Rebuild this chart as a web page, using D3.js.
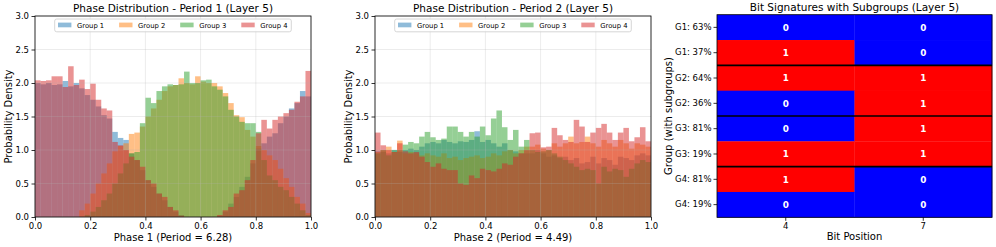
<!DOCTYPE html>
<html>
<head>
<meta charset="utf-8">
<script src="https://cdn.jsdelivr.net/npm/d3@7"></script>
<style>
  body { margin: 0; background: #fff; }
  text { font-family: "DejaVu Sans", sans-serif; }
</style>
</head>
<body>
<script>
// Histogram densities, 50 bins on [0, 1]
var groupNames = ['Group 1', 'Group 2', 'Group 3', 'Group 4'];
var groupColors = ['#1f77b4', '#ff7f0e', '#2ca02c', '#d62728'];
var nBins = 50;

var p1Group1 = [2.0, 1.98, 2.0, 1.97, 1.98, 2.03, 1.95, 2.0, 1.92, 1.82,
  1.75, 1.65, 1.52, 1.47, 1.27, 1.18, 1.15, 0.95, 0.85, 0.7,
  0.55, 0.45, 0.35, 0.25, 0.15, 0.08, 0.03, 0, 0, 0,
  0, 0, 0, 0.02, 0.08, 0.2, 0.3, 0.45, 0.6, 0.8,
  1.02, 1.1, 1.2, 1.25, 1.4, 1.5, 1.62, 1.7, 1.88, 1.8];
var p1Group2 = [0, 0, 0, 0, 0, 0, 0, 0, 0.1, 0.2,
  0.35, 0.5, 0.65, 0.8, 0.98, 1.06, 1.1, 1.24, 1.26, 1.35,
  1.5, 1.62, 1.75, 1.88, 1.95, 1.97, 2.07, 2.0, 1.98, 2.1,
  2.02, 2.0, 2.0, 1.95, 1.85, 1.7, 1.52, 1.49, 1.3, 1.2,
  1.06, 1.0, 0.92, 0.85, 0.72, 0.58, 0.45, 0.3, 0.2, 0.06];
var p1Group3 = [0, 0, 0, 0, 0, 0, 0, 0, 0, 0.03,
  0.08, 0.15, 0.25, 0.35, 0.5, 0.65, 0.8, 0.95, 0.97, 1.4,
  1.78, 1.7, 1.88, 1.95, 1.98, 1.97, 1.98, 2.17, 2.0, 2.0,
  2.04, 2.05, 1.95, 1.9, 1.8, 1.6, 1.5, 1.42, 1.4, 1.4,
  1.27, 0.85, 0.62, 0.55, 0.45, 0.4, 0.3, 0.2, 0.1, 0.03];
var p1Group4 = [2.04, 2.03, 2.04, 2.1, 2.1, 1.94, 2.25, 1.97, 2.05, 1.91,
  1.99, 1.75, 1.62, 1.59, 1.12, 1.07, 1.0, 0.9, 0.85, 0.75,
  0.55, 0.5, 0.35, 0.3, 0.15, 0.1, 0.02, 0, 0, 0,
  0, 0, 0, 0.03, 0.1, 0.15, 0.35, 0.4, 0.55, 0.85,
  1.25, 1.45, 1.32, 1.45, 1.5, 1.55, 1.6, 1.72, 1.8, 2.18];

var p2Group1 = [0.98, 0.97, 0.95, 1.0, 0.97, 1.0, 1.02, 1.0, 1.05, 1.1,
  1.12, 1.1, 1.15, 1.12, 1.1, 1.13, 1.12, 1.15, 1.28, 1.12,
  1.15, 1.1, 1.05, 1.1, 1.0, 0.98, 0.95, 0.95, 0.95, 1.0,
  0.95, 0.9, 0.92, 0.88, 0.9, 0.85, 0.88, 0.8, 0.82, 0.9,
  0.8, 0.88, 0.85, 0.78, 0.9, 0.88, 0.85, 0.92, 0.95, 0.92];
var p2Group2 = [0.97, 1.0, 1.05, 0.97, 1.14, 0.95, 0.97, 0.95, 0.92, 0.95,
  0.92, 0.9, 0.95, 0.88, 0.9, 0.85, 0.88, 0.9, 0.92, 0.88,
  0.9, 0.95, 0.92, 0.98, 1.0, 0.95, 1.0, 1.05, 1.05, 1.08,
  1.02, 1.0, 1.1, 1.05, 1.1, 1.2, 1.1, 1.12, 1.2, 1.1,
  1.05, 1.15, 1.1, 1.05, 1.15, 1.1, 1.02, 1.1, 1.08, 1.05];
var p2Group3 = [0.95, 1.0, 0.92, 1.0, 1.0, 1.08, 1.12, 1.1, 1.2, 1.27,
  1.19, 1.15, 1.17, 1.35, 1.35, 1.27, 1.2, 1.27, 1.2, 1.35,
  1.22, 1.47, 1.59, 1.34, 1.15, 1.3, 1.05, 1.15, 1.0, 0.97,
  0.98, 1.0, 0.95, 0.9, 0.85, 0.8, 0.75, 0.7, 0.72, 0.7,
  0.5, 0.75, 0.68, 0.72, 0.7, 0.6, 0.72, 0.8, 0.85, 0.82];
var p2Group4 = [1.26, 1.07, 1.0, 0.97, 1.1, 0.98, 0.95, 0.97, 0.9, 0.82,
  0.75, 0.8, 0.72, 0.7, 0.7, 0.5, 0.48, 0.62, 0.58, 0.72,
  0.7, 0.68, 0.72, 0.8, 0.78, 0.9, 0.95, 1.0, 1.25, 1.26,
  1.04, 1.05, 1.33, 1.22, 1.15, 1.12, 1.45, 1.35, 1.12, 1.26,
  1.33, 1.39, 1.26, 1.15, 1.26, 1.33, 1.13, 1.19, 1.34, 1.13];

var xTicks = [0, 0.2, 0.4, 0.6, 0.8, 1.0];
var yTicks = [0, 0.5, 1.0, 1.5, 2.0, 2.5, 3.0];

// Bit signatures heatmap
var sigLabels = ['G1: 63%', 'G1: 37%', 'G2: 64%', 'G2: 36%', 'G3: 81%', 'G3: 19%', 'G4: 81%', 'G4: 19%'];
var sigGroups = ['G1', 'G1', 'G2', 'G2', 'G3', 'G3', 'G4', 'G4'];
var bitPositions = ['4', '7'];
var sigBits = [[0, 0], [1, 0], [1, 1], [0, 1], [0, 1], [1, 1], [1, 0], [0, 0]];

var svg = d3.select('body').append('svg')
  .attr('width', 996)
  .attr('height', 247);

function styleAxis(g) {
  g.selectAll('path.domain').remove();
  g.selectAll('line').attr('stroke', '#000').attr('stroke-width', 0.8);
  g.selectAll('text').attr('font-size', 8.5).attr('fill', '#000')
    .attr('font-family', '"DejaVu Sans", sans-serif');
}

function drawHist(left, right, series, title, xLabel) {
  var top = 16, bottom = 217;
  var x = d3.scaleLinear().domain([0, 1]).range([left, right]);
  var y = d3.scaleLinear().domain([0, 3]).range([bottom, top]);
  var g = svg.append('g');
  var bw = x(1 / nBins) - x(0);

  series.forEach(function(vals, gi) {
    g.append('g').selectAll('rect')
      .data(vals)
      .enter()
      .append('rect')
      .attr('x', function(d, i) { return x(i / nBins); })
      .attr('width', bw)
      .attr('y', function(d) { return y(d); })
      .attr('height', function(d) { return bottom - y(d); })
      .attr('fill', groupColors[gi])
      .attr('fill-opacity', 0.5);
  });

  // grid (drawn above the bars, like matplotlib)
  g.selectAll('.gx').data(xTicks).enter().append('line')
    .attr('x1', function(d) { return x(d); }).attr('x2', function(d) { return x(d); })
    .attr('y1', top).attr('y2', bottom)
    .attr('stroke', '#b0b0b0').attr('stroke-opacity', 0.3).attr('stroke-width', 0.8);
  g.selectAll('.gy').data(yTicks).enter().append('line')
    .attr('x1', left).attr('x2', right)
    .attr('y1', function(d) { return y(d); }).attr('y2', function(d) { return y(d); })
    .attr('stroke', '#b0b0b0').attr('stroke-opacity', 0.3).attr('stroke-width', 0.8);

  g.append('rect')
    .attr('x', left).attr('y', top)
    .attr('width', right - left).attr('height', bottom - top)
    .attr('fill', 'none').attr('stroke', '#000').attr('stroke-width', 0.8);

  g.append('g').attr('transform', 'translate(0,' + bottom + ')')
    .call(d3.axisBottom(x).tickValues(xTicks).tickFormat(d3.format('.1f')).tickSize(3.5).tickPadding(2.5))
    .call(styleAxis);
  g.append('g').attr('transform', 'translate(' + left + ',0)')
    .call(d3.axisLeft(y).tickValues(yTicks).tickFormat(d3.format('.1f')).tickSize(3.5).tickPadding(2.5))
    .call(styleAxis);

  var cx = (left + right) / 2;
  g.append('text').attr('x', cx).attr('y', 11.5)
    .attr('text-anchor', 'middle').attr('font-size', 10.5).text(title);
  g.append('text').attr('x', cx).attr('y', 241)
    .attr('text-anchor', 'middle').attr('font-size', 10).text(xLabel);
  g.append('text')
    .attr('transform', 'translate(' + (left - 23) + ',' + ((top + bottom) / 2) + ') rotate(-90)')
    .attr('text-anchor', 'middle').attr('font-size', 10).text('Probability Density');

  // legend, upper center
  var lg = g.append('g').attr('transform', 'translate(' + (cx - 118.3) + ',19)');
  lg.append('rect').attr('width', 236.6).attr('height', 12.8).attr('rx', 2)
    .attr('fill', '#fff').attr('fill-opacity', 0.8)
    .attr('stroke', '#cccccc').attr('stroke-width', 0.8);
  groupNames.forEach(function(name, i) {
    var ex = 3.3 + i * 61.1;
    lg.append('rect').attr('x', ex).attr('y', 3.6).attr('width', 13.4).attr('height', 4.7)
      .attr('fill', groupColors[i]).attr('fill-opacity', 0.5);
    lg.append('text').attr('x', ex + 19).attr('y', 8.7)
      .attr('font-size', 6.8).text(name);
  });
}

drawHist(35, 311, [p1Group1, p1Group2, p1Group3, p1Group4],
  'Phase Distribution - Period 1 (Layer 5)', 'Phase 1 (Period = 6.28)');
drawHist(375, 651, [p2Group1, p2Group2, p2Group3, p2Group4],
  'Phase Distribution - Period 2 (Layer 5)', 'Phase 2 (Period = 4.49)');

// Bit signature heatmap
function drawSignatures() {
  var left = 717, right = 992, top = 14.7, bottom = 217.3;
  var x = d3.scaleBand().domain(bitPositions).range([left, right]);
  var y = d3.scaleBand().domain(sigLabels).range([top, bottom]);
  var g = svg.append('g');

  var cells = [];
  sigBits.forEach(function(row, r) {
    row.forEach(function(b, c) {
      cells.push({ row: sigLabels[r], col: bitPositions[c], bit: b });
    });
  });

  g.selectAll('rect.cell').data(cells).enter().append('rect')
    .attr('x', function(d) { return x(d.col); })
    .attr('y', function(d) { return y(d.row); })
    .attr('width', x.bandwidth() + 0.3)
    .attr('height', y.bandwidth() + 0.3)
    .attr('fill', function(d) { return d.bit ? '#ff0000' : '#0000ff'; });

  g.selectAll('text.cell').data(cells).enter().append('text')
    .attr('x', function(d) { return x(d.col) + x.bandwidth() / 2; })
    .attr('y', function(d) { return y(d.row) + y.bandwidth() / 2 + 3.2; })
    .attr('text-anchor', 'middle').attr('font-size', 8.8).attr('font-weight', 'bold')
    .attr('fill', '#fff')
    .text(function(d) { return d.bit; });

  // separators between groups
  var seps = [];
  for (var i = 1; i < sigGroups.length; i++) {
    if (sigGroups[i] !== sigGroups[i - 1]) seps.push(sigLabels[i]);
  }
  g.selectAll('line.sep').data(seps).enter().append('line')
    .attr('x1', left).attr('x2', right)
    .attr('y1', function(d) { return y(d); }).attr('y2', function(d) { return y(d); })
    .attr('stroke', '#000').attr('stroke-width', 1.6);

  g.append('rect')
    .attr('x', left).attr('y', top)
    .attr('width', right - left).attr('height', bottom - top)
    .attr('fill', 'none').attr('stroke', '#000').attr('stroke-width', 0.8);

  g.append('g').attr('transform', 'translate(0,' + bottom + ')')
    .call(d3.axisBottom(x).tickSize(3.5).tickPadding(2.5))
    .call(styleAxis);
  g.append('g').attr('transform', 'translate(' + left + ',0)')
    .call(d3.axisLeft(y).tickSize(3.5).tickPadding(2))
    .call(styleAxis);

  var cx = (left + right) / 2;
  g.append('text').attr('x', cx).attr('y', 11)
    .attr('text-anchor', 'middle').attr('font-size', 10.5)
    .text('Bit Signatures with Subgroups (Layer 5)');
  g.append('text').attr('x', cx).attr('y', 239.5)
    .attr('text-anchor', 'middle').attr('font-size', 10).text('Bit Position');
  g.append('text')
    .attr('transform', 'translate(672,' + ((top + bottom) / 2) + ') rotate(-90)')
    .attr('text-anchor', 'middle').attr('font-size', 10).text('Group (with subgroups)');
}

drawSignatures();
</script>
</body>
</html>
